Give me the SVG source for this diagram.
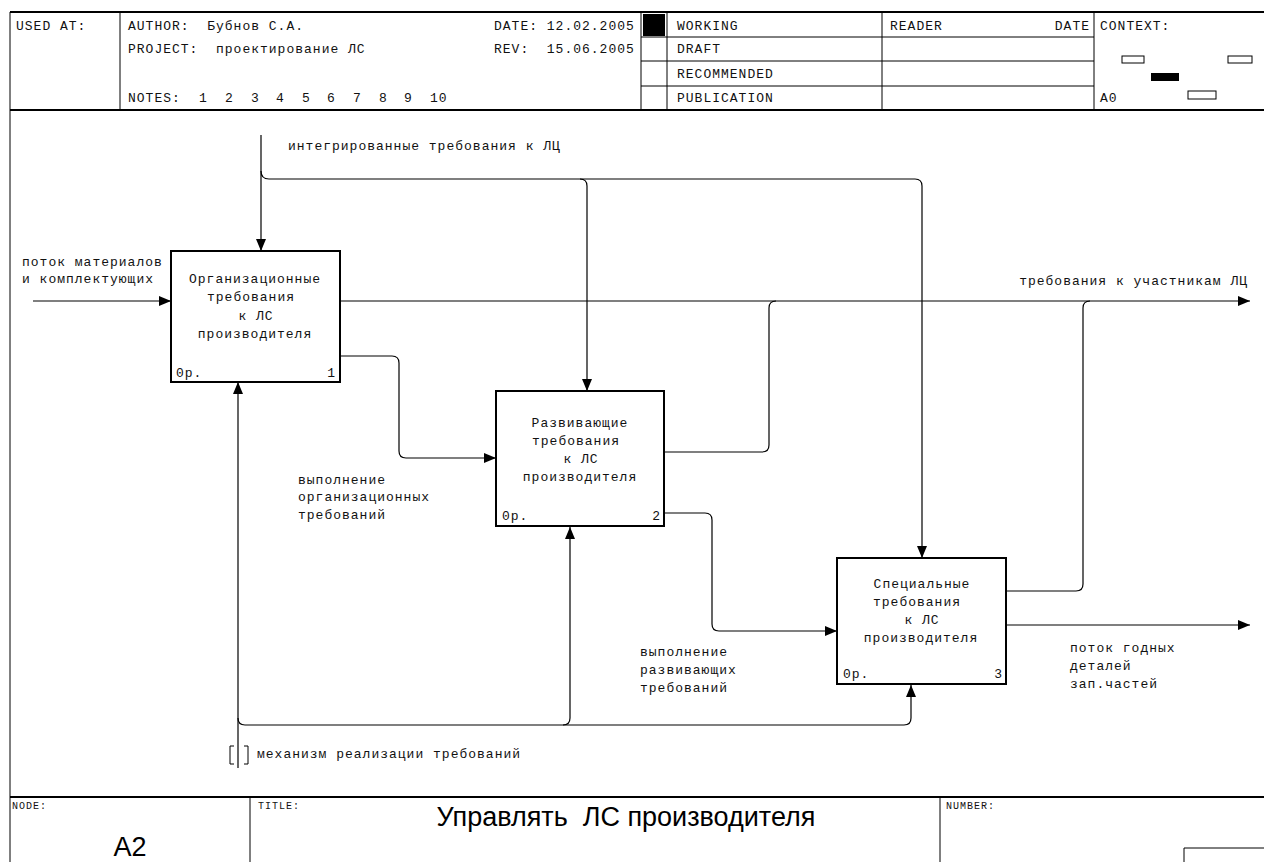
<svg xmlns="http://www.w3.org/2000/svg" width="1264" height="862" viewBox="0 0 1264 862">
<style>
.t{font-family:"Liberation Mono","DejaVu Sans Mono",monospace;font-size:13px;letter-spacing:1px;fill:#111;white-space:pre}
.s{font-family:"Liberation Mono","DejaVu Sans Mono",monospace;font-size:10px;letter-spacing:1px;fill:#111}
.big{font-family:"Liberation Sans",Arial,sans-serif;font-size:27px;fill:#000;white-space:pre}
.m{text-anchor:middle}
.e{text-anchor:end}
.f{fill:none;stroke:#000;stroke-width:1}
.F{fill:none;stroke:#000;stroke-width:2}
.box{fill:#fff;stroke:#000;stroke-width:2}
.c{fill:none;stroke:#000;stroke-width:1.2}
.a{marker-end:url(#ah)}
</style>
<defs>
<marker id="ah" markerWidth="12" markerHeight="10" refX="12" refY="5" orient="auto" markerUnits="userSpaceOnUse"><path d="M0,0 L12,5 L0,10 z" fill="#000"/></marker>
</defs>
<rect width="1264" height="862" fill="#fff"/>
<g id="frame">
<path class="F" d="M10,12 H1264 M10,110 H1264 M10,797 H1264"/>
<path class="f" d="M10,12 V862 M120,12 V110 M641,12 V110 M667,12 V110 M882,12 V110 M1094,12 V110 M641,37 H1094 M641,61 H1094 M641,86 H1094 M250,797 V862 M940,797 V862 M1184,862 V848 H1264"/>
<rect x="643" y="14" width="22" height="22" fill="#000"/>
<rect x="1122" y="56" width="22" height="7" class="f"/>
<rect x="1228" y="56" width="24" height="7" class="f"/>
<rect x="1151" y="73" width="28" height="8" fill="#000"/>
<rect x="1188" y="91" width="28" height="8" class="f"/>
<text class="t" x="16" y="30">USED AT:</text>
<text class="t" x="128" y="30" xml:space="preserve">AUTHOR:  Бубнов С.А.</text>
<text class="t" x="128" y="53" xml:space="preserve">PROJECT:  проектирование ЛС</text>
<text class="t" x="128" y="102">NOTES:<tspan x="199">1</tspan><tspan x="225">2</tspan><tspan x="251">3</tspan><tspan x="276">4</tspan><tspan x="302">5</tspan><tspan x="327">6</tspan><tspan x="353">7</tspan><tspan x="379">8</tspan><tspan x="404">9</tspan><tspan x="430">10</tspan></text>
<text class="t" x="494" y="30">DATE: 12.02.2005</text>
<text class="t" x="494" y="53" xml:space="preserve">REV:  15.06.2005</text>
<text class="t" x="677" y="30">WORKING</text>
<text class="t" x="677" y="53">DRAFT</text>
<text class="t" x="677" y="78">RECOMMENDED</text>
<text class="t" x="677" y="102">PUBLICATION</text>
<text class="t" x="890" y="30">READER</text>
<text class="t e" x="1090" y="30">DATE</text>
<text class="t" x="1100" y="30">CONTEXT:</text>
<text class="t" x="1100" y="102">A0</text>
<text class="s" x="12" y="809">NODE:</text>
<text class="s" x="258" y="809">TITLE:</text>
<text class="s" x="946" y="809">NUMBER:</text>
<text class="big m" x="130" y="856">A2</text>
<text class="big m" x="626" y="826" xml:space="preserve">Управлять  ЛС производителя</text>
</g>
<g id="connectors">
<path class="c a" d="M261,135 V251"/>
<path class="c a" d="M261,171 Q261,179 269,179 H915 Q922,179 922,186 V558"/>
<path class="c a" d="M580,179 Q587,179 587,186 V391"/>
<path class="c a" d="M33,301 H171"/>
<path class="c a" d="M340,301 H1250"/>
<path class="c a" d="M340,356 H392 Q399,356 399,363 V451 Q399,458 406,458 H496"/>
<path class="c" d="M664,452 H762 Q769,452 769,445 V308 Q769,301 776,301"/>
<path class="c a" d="M664,513 H705 Q712,513 712,520 V624 Q712,631 719,631 H837"/>
<path class="c" d="M1006,591 H1076 Q1083,591 1083,584 V308 Q1083,301 1090,301"/>
<path class="c a" d="M1006,625 H1250"/>
<path class="c a" d="M238,768 V382"/>
<path class="c a" d="M238,718 Q238,725 245,725 H904 Q911,725 911,718 V685"/>
<path class="c a" d="M563,725 Q570,725 570,718 V527"/>
<path class="f" d="M234,746 H230 V764 H234 M244,746 H248 V764 H244"/>
<text class="t" x="288" y="150">интегрированные требования к ЛЦ</text>
<text class="t" x="22" y="266">поток материалов</text>
<text class="t" x="22" y="283">и комплектующих</text>
<text class="t e" x="1248" y="285">требования к участникам ЛЦ</text>
<text class="t" x="298" y="484">выполнение</text>
<text class="t" x="298" y="501">организационных</text>
<text class="t" x="298" y="519">требований</text>
<text class="t" x="640" y="656">выполнение</text>
<text class="t" x="640" y="674">развивающих</text>
<text class="t" x="640" y="692">требований</text>
<text class="t" x="1070" y="652">поток годных</text>
<text class="t" x="1070" y="670">деталей</text>
<text class="t" x="1070" y="688">зап.частей</text>
<text class="t" x="257" y="758">механизм реализации требований</text>
</g>
<g id="node1">
<rect class="box" x="171" y="251" width="169" height="131"/>
<text class="t m" x="255" y="283">Организационные</text>
<text class="t m" x="251" y="301">требования</text>
<text class="t m" x="256" y="320">к ЛС</text>
<text class="t m" x="255" y="338">производителя</text>
<text class="t" x="176" y="377">0р.</text>
<text class="t e" x="336" y="377">1</text>
</g>
<g id="node2">
<rect class="box" x="496" y="391" width="168" height="135"/>
<text class="t m" x="580" y="427">Развивающие</text>
<text class="t m" x="576" y="445">требования</text>
<text class="t m" x="581" y="463">к ЛС</text>
<text class="t m" x="580" y="481">производителя</text>
<text class="t" x="502" y="520">0р.</text>
<text class="t e" x="661" y="520">2</text>
</g>
<g id="node3">
<rect class="box" x="837" y="558" width="169" height="126"/>
<text class="t m" x="922" y="588">Специальные</text>
<text class="t m" x="917" y="606">требования</text>
<text class="t m" x="922" y="624">к ЛС</text>
<text class="t m" x="921" y="642">производителя</text>
<text class="t" x="843" y="678">0р.</text>
<text class="t e" x="1003" y="678">3</text>
</g>
</svg>
